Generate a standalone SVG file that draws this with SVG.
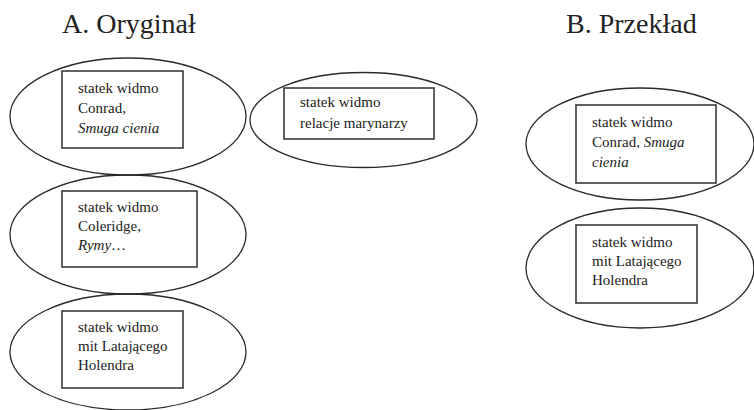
<svg xmlns="http://www.w3.org/2000/svg" width="754" height="410" viewBox="0 0 754 410">
<style>
.ell{fill:none;stroke:#2a2a2a;stroke-width:1.3}
.box{fill:#fff;stroke:#3a3a3a;stroke-width:1.6}
.lbl{font-family:'Liberation Serif','Times New Roman',serif;font-size:15px;fill:#222}
.it{font-style:italic}
.ttl{font-family:'Liberation Serif','Times New Roman',serif;font-size:28px;fill:#222}
</style>
<rect width="754" height="410" fill="#fff"/>
<text class="ttl" x="62" y="33">A. Oryginał</text>
<text class="ttl" x="566" y="33">B. Przekład</text>
<g id="connectors"></g>
<g font-family="Liberation Serif, Times New Roman, serif" font-size="15">
<g id="a1">
<ellipse class="ell" cx="128" cy="116.5" rx="118" ry="58.5"/>
<rect class="box" x="62" y="71" width="121" height="77"/>
<text class="lbl" x="78" y="93">statek widmo</text>
<text class="lbl" x="78" y="113">Conrad,</text>
<text class="lbl it" x="78" y="133">Smuga cienia</text>
</g>
<g id="a2">
<ellipse class="ell" cx="363.5" cy="120" rx="113.5" ry="47.5"/>
<rect class="box" x="284" y="88" width="150" height="51"/>
<text class="lbl" x="300" y="107">statek widmo</text>
<text class="lbl" x="300" y="128">relacje marynarzy</text>
</g>
<g id="a3">
<ellipse class="ell" cx="128" cy="234.5" rx="118" ry="59.5"/>
<rect class="box" x="62" y="191" width="135" height="76"/>
<text class="lbl" x="78" y="212">statek widmo</text>
<text class="lbl" x="78" y="231">Coleridge,</text>
<text class="lbl" x="78" y="250"><tspan class="it">Rymy</tspan>…</text>
</g>
<g id="a4">
<ellipse class="ell" cx="128" cy="352" rx="118" ry="58"/>
<rect class="box" x="62" y="311" width="121" height="77"/>
<text class="lbl" x="78" y="332">statek widmo</text>
<text class="lbl" x="78" y="351">mit Latającego</text>
<text class="lbl" x="78" y="370">Holendra</text>
</g>
<g id="b1">
<ellipse class="ell" cx="640" cy="144" rx="114" ry="56"/>
<rect class="box" x="576" y="105" width="140" height="78"/>
<text class="lbl" x="592" y="127">statek widmo</text>
<text class="lbl" x="592" y="147">Conrad, <tspan class="it">Smuga</tspan></text>
<text class="lbl it" x="592" y="167">cienia</text>
</g>
<g id="b2">
<ellipse class="ell" cx="640" cy="268" rx="114" ry="60"/>
<rect class="box" x="576" y="225" width="121" height="78"/>
<text class="lbl" x="592" y="247">statek widmo</text>
<text class="lbl" x="592" y="266">mit Latającego</text>
<text class="lbl" x="592" y="285">Holendra</text>
</g>
</g>
</svg>
